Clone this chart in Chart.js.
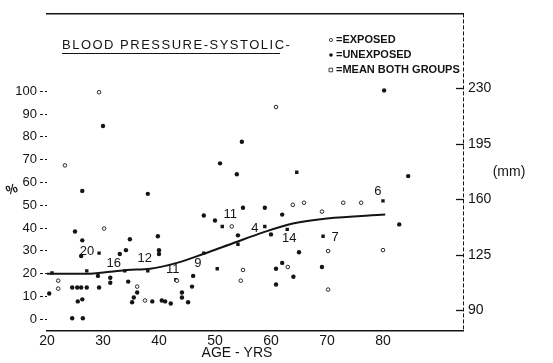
<!DOCTYPE html>
<html>
<head>
<meta charset="utf-8">
<script src="https://cdn.jsdelivr.net/npm/chart.js@4/dist/chart.umd.min.js"></script>
<style>
    html, body { margin: 0; padding: 0; background: #fff; }
    #grafica { display: block; }
</style>
</head>
<body>
<canvas id="grafica" width="553" height="363"></canvas>
<script>
// ticks
var xTicks = [20, 30, 40, 50, 60, 70, 80];
var yTicks = [0, 10, 20, 30, 40, 50, 60, 70, 80, 90, 100];
var mmTicks = [90, 125, 160, 195, 230];

// exposed (open circles)
var exposedAge = [60.9, 23.2, 29.3, 30.2, 63.9, 65.9, 72.9, 76.1, 69.1, 80.0, 70.2, 63.0, 70.2, 55.0, 54.6, 22.0, 22.0, 36.1, 37.5, 53.0, 43.2];
var exposedPct = [93.1, 67.5, 99.6, 39.8, 50.2, 51.1, 51.1, 51.1, 47.2, 30.3, 29.9, 22.9, 13.0, 21.6, 16.9, 16.9, 13.4, 14.3, 8.2, 40.7, 16.9];

// unexposed (filled dots)
var unexposedAge = [30.0, 80.2, 26.3, 38.0, 54.8, 50.9, 53.9, 84.5, 82.9, 48.0, 50.0, 55.0, 58.9, 62.0, 54.1, 60.0, 65.0,
    46.1, 45.9, 44.1, 44.1, 45.2, 42.1, 60.9, 62.0, 64.0, 60.9, 69.1, 25.0, 26.3, 26.1, 34.8, 39.8, 40.0, 40.0, 34.1, 33.0,
    29.1, 24.5, 25.4, 26.1, 27.1, 29.3, 31.3, 31.3, 34.5, 36.1, 35.5, 35.2, 38.8, 40.5, 41.1, 20.4, 25.5, 26.3, 24.5, 26.4];
var unexposedPct = [84.8, 100.4, 56.3, 55.0, 77.9, 68.4, 63.6, 62.8, 41.6, 45.5, 43.3, 48.9, 48.9, 45.9, 36.8, 37.2, 29.4,
    19.0, 14.3, 11.7, 9.5, 7.4, 6.9, 22.1, 24.7, 18.6, 15.2, 22.9, 38.5, 34.6, 27.7, 35.1, 36.4, 30.3, 28.6, 30.3, 28.6,
    19.0, 13.9, 13.9, 13.9, 13.9, 13.9, 18.2, 16.0, 16.5, 11.7, 9.5, 7.4, 7.8, 8.2, 7.8, 11.3, 7.8, 8.7, 0.4, 0.4];

// mean both groups (squares) and number of subjects
var meanAge = [20.9, 27.1, 29.3, 33.9, 38.0, 43.0, 48.0, 50.4, 51.3, 58.9, 54.1, 62.9, 64.6, 69.3, 80.0];
var meanPct = [20.3, 21.2, 29.0, 21.2, 21.2, 17.3, 29.0, 22.1, 40.7, 40.7, 32.9, 39.4, 64.5, 36.4, 51.9];
var meanLabels = ["", "", "20", "16", "12", "11", "9", "", "11", "4", "", "14", "", "7", "6"];

// fitted curve
var curveAge = [20, 27.1, 31.3, 34.3, 38.4, 43.2, 47.9, 53.2, 58.6, 63.9, 70.0, 80.4];
var curvePct = [19.9, 19.9, 20.8, 21.6, 22.1, 24.7, 28.6, 33.3, 38.1, 42.0, 44.2, 45.9];

// label placement (px, relative to the point)
var labelShift = {
    "20": [-12, -2], "16": [-11, -7], "12": [-3, -12], "11a": [-3, -10], "9": [-6, 10],
    "11b": [8, -12], "4": [-10, 2], "14": [2, 9], "7": [12, 1], "6": [-5, -9]
};

function puntos(xs, ys) {
    return xs.map(function (x, i) { return { x: x, y: ys[i] }; });
}

var tinta = "#141414";
var fuente = "Liberation Sans";

var textos = {
    id: "textos",
    afterDraw: function (chart) {
        var ctx = chart.ctx;
        var area = chart.chartArea;
        ctx.save();
        ctx.fillStyle = tinta;
        ctx.strokeStyle = tinta;

        // right axis: dashed line and inward ticks
        var mm = chart.scales.mm;
        ctx.lineWidth = 1;
        ctx.setLineDash([4, 2]);
        ctx.beginPath();
        ctx.moveTo(area.right + 0.5, area.top);
        ctx.lineTo(area.right + 0.5, area.bottom);
        ctx.stroke();
        ctx.setLineDash([]);
        ctx.lineWidth = 1.3;
        mmTicks.forEach(function (v) {
            var y = Math.round(mm.getPixelForValue(v)) + 0.5;
            ctx.beginPath();
            ctx.moveTo(area.right - 7, y);
            ctx.lineTo(area.right + 1, y);
            ctx.stroke();
        });

        // title
        ctx.font = "13px " + fuente;
        ctx.letterSpacing = "1.5px";
        ctx.textBaseline = "alphabetic";
        ctx.textAlign = "left";
        ctx.fillText("BLOOD PRESSURE-SYSTOLIC-", 62, 49);
        ctx.letterSpacing = "0px";
        ctx.lineWidth = 1;
        ctx.beginPath();
        ctx.moveTo(62, 53.5);
        ctx.lineTo(280, 53.5);
        ctx.stroke();

        // legend
        ctx.font = "bold 11px " + fuente;
        ctx.textBaseline = "middle";
        var filas = [["circle", "=EXPOSED"], ["dot", "=UNEXPOSED"], ["rect", "=MEAN BOTH GROUPS"]];
        filas.forEach(function (f, i) {
            var y = 40 + i * 15;
            ctx.beginPath();
            if (f[0] === "circle") {
                ctx.arc(331, y, 1.6, 0, Math.PI * 2);
                ctx.lineWidth = 0.8;
                ctx.stroke();
            } else if (f[0] === "dot") {
                ctx.arc(331, y, 1.8, 0, Math.PI * 2);
                ctx.fill();
            } else {
                ctx.rect(329, y - 1.8, 3.6, 3.6);
                ctx.lineWidth = 0.8;
                ctx.stroke();
            }
            ctx.fillText(f[1], 336, y);
        });

        // mean labels
        var meta = chart.getDatasetMeta(3);
        var vistos = {};
        ctx.font = "13px " + fuente;
        ctx.textAlign = "center";
        meanLabels.forEach(function (txt, i) {
            if (!txt) return;
            var key = txt;
            if (txt === "11") {
                key = vistos["11"] ? "11b" : "11a";
                vistos["11"] = true;
            }
            var d = labelShift[key] || [0, -10];
            var p = meta.data[i];
            ctx.fillText(txt, p.x + d[0], p.y + d[1]);
        });

        // axis words
        ctx.font = "14px " + fuente;
        ctx.fillText("AGE - YRS", 237, 353);
        ctx.fillText("(mm)", 509, 172);
        ctx.save();
        ctx.translate(12, 190);
        ctx.rotate(-0.35);
        ctx.font = "bold 13px " + fuente;
        ctx.fillText("%", 0, 0);
        ctx.restore();

        ctx.restore();
    }
};

var ctx = document.getElementById("grafica").getContext("2d");
var chart = new Chart(ctx, {
    plugins: [textos],
    data: {
        datasets: [
            {
                type: "line",
                label: "curve",
                data: puntos(curveAge, curvePct),
                borderColor: tinta,
                borderWidth: 2,
                pointRadius: 0,
                tension: 0.4,
                cubicInterpolationMode: "monotone",
                fill: false,
                yAxisID: "y",
            },
            {
                type: "scatter",
                label: "EXPOSED",
                data: puntos(exposedAge, exposedPct),
                pointStyle: "circle",
                pointRadius: 1.8,
                backgroundColor: "#fff",
                borderColor: tinta,
                borderWidth: 0.9,
                yAxisID: "y",
            },
            {
                type: "scatter",
                label: "UNEXPOSED",
                data: puntos(unexposedAge, unexposedPct),
                pointStyle: "circle",
                pointRadius: 2.2,
                backgroundColor: tinta,
                borderColor: tinta,
                borderWidth: 0,
                yAxisID: "y",
            },
            {
                type: "scatter",
                label: "MEAN BOTH GROUPS",
                data: puntos(meanAge, meanPct),
                pointStyle: "rect",
                pointRadius: 2.4,
                backgroundColor: tinta,
                borderColor: tinta,
                borderWidth: 0,
                yAxisID: "y",
            },
        ],
    },
    options: {
        responsive: false,
        animation: false,
        layout: { padding: { top: 9, left: 0, right: 0, bottom: 0 } },
        plugins: {
            legend: { display: false },
            tooltip: { enabled: false },
        },
        scales: {
            x: {
                type: "linear",
                position: "bottom",
                min: 20,
                max: 94.29,
                afterBuildTicks: function (axis) {
                    axis.ticks = xTicks.map(function (v) { return { value: v }; });
                },
                afterFit: function (axis) { axis.height = 32; },
                grid: { drawOnChartArea: false, drawTicks: false },
                border: { display: true, color: tinta, width: 1.6 },
                ticks: { color: tinta, padding: 2, font: { family: fuente, size: 14 } },
            },
            xTop: {
                type: "linear",
                position: "top",
                min: 20,
                max: 94.29,
                afterFit: function (axis) { axis.height = 0; },
                grid: { drawOnChartArea: false, drawTicks: false },
                border: { display: true, color: tinta, width: 1.4 },
                ticks: { display: false },
            },
            y: {
                type: "linear",
                position: "left",
                min: -5.19,
                max: 134.2,
                afterBuildTicks: function (axis) {
                    axis.ticks = yTicks.map(function (v) { return { value: v }; });
                },
                afterFit: function (axis) { axis.width = 47; },
                grid: {
                    drawOnChartArea: false,
                    drawTicks: true,
                    tickLength: 7,
                    tickColor: tinta,
                    tickWidth: 1,
                    tickBorderDash: [3, 2],
                },
                border: { display: false },
                ticks: { color: tinta, padding: 3, font: { family: fuente, size: 13 } },
            },
            mm: {
                type: "linear",
                position: "right",
                min: 76.93,
                max: 277.3,
                afterBuildTicks: function (axis) {
                    axis.ticks = mmTicks.map(function (v) { return { value: v }; });
                },
                afterFit: function (axis) { axis.width = 90; },
                grid: { drawOnChartArea: false, drawTicks: false },
                border: { display: false },
                ticks: { color: tinta, padding: 5, font: { family: fuente, size: 14 } },
            },
        },
    },
});
</script>
</body>
</html>
